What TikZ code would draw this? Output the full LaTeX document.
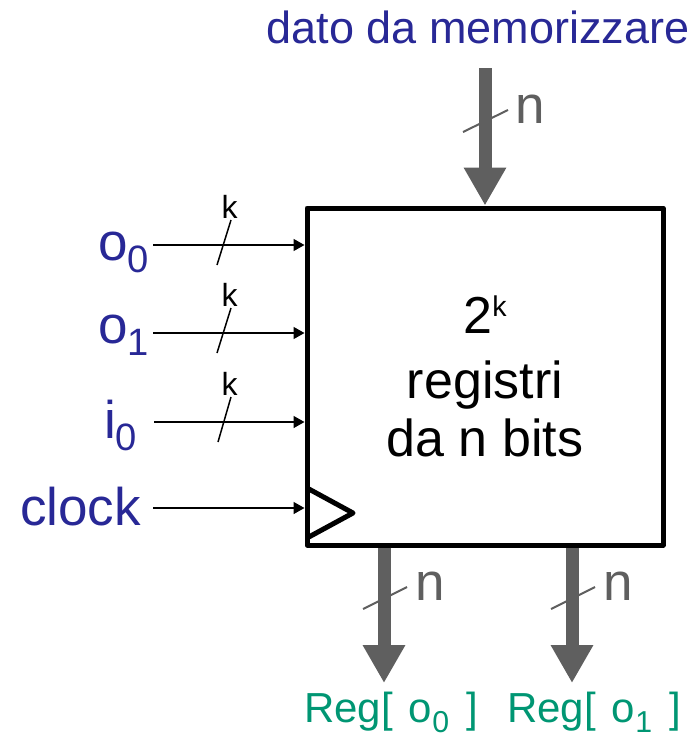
\documentclass[tikz,border=0pt]{standalone}
\usepackage{fontspec}
\setmainfont{Liberation Sans}
\usetikzlibrary{arrows.meta}

\definecolor{labelblue}{RGB}{40,40,150}
\definecolor{outgreen}{RGB}{0,150,115}
\definecolor{busgray}{RGB}{95,95,95}

\newcommand{\loidx}[1]{\raisebox{-0.24em}{\scalebox{0.72}{#1}}}
\newcommand{\hiidx}[1]{\raisebox{0.33em}{\scalebox{0.55}{#1}}}

\begin{document}
\begin{tikzpicture}[x=1pt, y=-1pt,
  wire/.style={line width=1.5pt, -{Triangle[length=11pt,width=12pt]}},
  bus/.style={busgray, line width=13pt, -{Triangle[length=38pt,width=40pt]}},
  tick/.style={line width=1.5pt},
  bustick/.style={busgray, line width=2pt},
  lbl/.style={labelblue, font=\fontsize{53}{60}\selectfont, inner sep=0pt},
  klbl/.style={font=\fontsize{32}{34}\selectfont, inner sep=0pt},
  nlbl/.style={busgray, font=\fontsize{53}{60}\selectfont, inner sep=0pt},
  outlbl/.style={outgreen, font=\fontsize{42}{46}\selectfont, inner sep=0pt}]
  \useasboundingbox (0,0) rectangle (697,736);

  % blocco dei registri
  \node[draw, line width=5pt, line join=round, minimum width=356pt, minimum height=337pt,
        inner sep=0pt, align=center, font=\fontsize{52}{58}\selectfont]
        (reg) at (485,376.5) {2\hiidx{k}\\[7pt] registri\\ da n bits};
  \draw[line width=5pt, line join=round] (307,488) -- (353,513) -- (307,538);

  % ingressi
  \coordinate (a0) at (153,245);
  \coordinate (a1) at (153,333);
  \coordinate (a2) at (154,422);
  \coordinate (a3) at (153,508);
  \draw[wire] (a0) -- (a0 -| reg.west);
  \draw[wire] (a1) -- (a1 -| reg.west);
  \draw[wire] (a2) -- (a2 -| reg.west);
  \draw[wire] (a3) -- (a3 -| reg.west);

  \draw[tick] (217,265) -- (231,220);
  \draw[tick] (217,353) -- (231,308);
  \draw[tick] (218,442) -- (231,397);
  \node[klbl, anchor=base] (k0) at (229.5,218) {k};
  \node[klbl, anchor=base] (k1) at (229.5,306) {k};
  \node[klbl, anchor=base] (k2) at (229.5,395) {k};

  \node[lbl, anchor=base west] (o0) at (98,260) {o\loidx{0}};
  \node[lbl, anchor=base west] (o1) at (98,343) {o\loidx{1}};
  \node[lbl, anchor=base west] (i0) at (104,438) {i\loidx{0}};
  \node[lbl, anchor=base west] (clk) at (20,525) {clock};

  % dato in ingresso
  \node[lbl, font=\fontsize{45}{50}\selectfont, anchor=base] (dato) at (478,43) {dato da memorizzare};
  \coordinate (din) at (485,68);
  \draw[bus] (din) -- (reg.north);
  \draw[bustick] (463,132) -- (508,110);
  \node[nlbl, anchor=base west] (nin) at (515,123) {n};

  % uscite
  \coordinate (q0) at (384,683);
  \coordinate (q1) at (572,683);
  \draw[bus] (reg.south -| q0) -- (q0);
  \draw[bus] (reg.south -| q1) -- (q1);
  \draw[bustick] (363,609) -- (407,587);
  \draw[bustick] (551,609) -- (595,587);
  \node[nlbl, anchor=base west] (nq0) at (415,600) {n};
  \node[nlbl, anchor=base west] (nq1) at (603,600) {n};

  \node[outlbl, anchor=base west] (r0) at (304,722) {Reg[\hspace{16pt}o\loidx{0}\hspace{17pt}]};
  \node[outlbl, anchor=base west] (r1) at (507,722) {Reg[\hspace{16pt}o\loidx{1}\hspace{17pt}]};
\end{tikzpicture}
\end{document}
